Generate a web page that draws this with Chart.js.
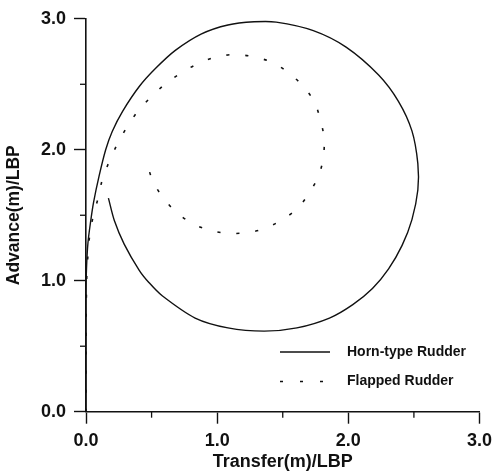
<!DOCTYPE html>
<html>
<head>
<meta charset="utf-8">
<script src="https://cdn.jsdelivr.net/npm/chart.js@4.4.1/dist/chart.umd.min.js"></script>
<style>
  html, body { margin: 0; padding: 0; background: #fff; }
  canvas { display: block; }
</style>
</head>
<body>
<canvas id="turning" width="499" height="471"></canvas>
<script>
// turning circle track
var seriesNames = ['Horn-type Rudder', 'Flapped Rudder'];

var hornX = [0, 0, 0, 0.004, 0.015, 0.035, 0.058, 0.1, 0.15, 0.2, 0.28, 0.406, 0.531, 0.681, 0.881, 1.082, 1.282, 1.45,
  1.733, 1.983, 2.231, 2.382, 2.485, 2.53, 2.53, 2.485, 2.41, 2.307, 2.184, 2.034, 1.856, 1.608, 1.358, 1.082,
  0.832, 0.581, 0.481, 0.406, 0.291, 0.216, 0.171];
var hornY = [0, 0.5, 0.9, 1.1, 1.29, 1.45, 1.6, 1.8, 2.0, 2.14, 2.295, 2.483, 2.622, 2.759, 2.885, 2.953, 2.977, 2.975,
  2.91, 2.784, 2.571, 2.37, 2.144, 1.894, 1.693, 1.467, 1.27, 1.091, 0.941, 0.818, 0.715, 0.64, 0.615, 0.64,
  0.715, 0.885, 0.985, 1.08, 1.28, 1.46, 1.631];

var flapX = [0, 0, 0.005, 0.015, 0.028, 0.055, 0.092, 0.125, 0.18, 0.243, 0.318, 0.4, 0.501, 0.606, 0.727, 0.857, 0.994,
  1.137, 1.282, 1.42, 1.545, 1.653, 1.741, 1.788, 1.816, 1.808, 1.771, 1.696, 1.608, 1.482, 1.358, 1.227, 1.082,
  0.932, 0.802, 0.681, 0.581, 0.506, 0.464];
var flapY = [0, 0.5, 1.0, 1.2, 1.345, 1.493, 1.63, 1.774, 1.917, 2.052, 2.182, 2.3, 2.408, 2.503, 2.588, 2.659, 2.709,
  2.727, 2.709, 2.667, 2.588, 2.488, 2.366, 2.225, 2.082, 1.932, 1.794, 1.661, 1.548, 1.458, 1.397, 1.367, 1.362,
  1.388, 1.442, 1.53, 1.643, 1.768, 1.907];

var axisMin = 0;
var axisMax = 3;
var minorTicks = [0.5, 1.5, 2.5];

function toPoints(xs, ys) {
  var pts = [];
  for (var i = 0; i < xs.length; i++) {
    pts.push({ x: xs[i], y: ys[i] });
  }
  return pts;
}

var ink = '#111';
var labelFont = { family: '"Liberation Sans", Arial, sans-serif', size: 18, weight: 'bold' };

function majorOnly(ctx) {
  return Number.isInteger(ctx.tick.value) ? ink : 'rgba(0,0,0,0)';
}

// short ticks at the half units
var minorTickPlugin = {
  id: 'minorTicks',
  afterDraw: function (chart) {
    var c = chart.ctx;
    var xs = chart.scales.x, ys = chart.scales.y;
    c.save();
    c.strokeStyle = ink;
    c.lineWidth = 1.3;
    minorTicks.forEach(function (v) {
      var px = xs.getPixelForValue(v);
      c.beginPath();
      c.moveTo(px, chart.chartArea.bottom);
      c.lineTo(px, chart.chartArea.bottom + 6);
      c.stroke();
      var py = ys.getPixelForValue(v);
      c.beginPath();
      c.moveTo(chart.chartArea.left - 6, py);
      c.lineTo(chart.chartArea.left, py);
      c.stroke();
    });
    c.restore();
  }
};

// legend sits inside the plot, lower right
var legendPlugin = {
  id: 'insideLegend',
  afterDraw: function (chart) {
    var c = chart.ctx;
    var rows = [352, 381.5];
    chart.data.datasets.forEach(function (ds, i) {
      var y = rows[i];
      c.save();
      c.strokeStyle = ds.borderColor;
      c.lineWidth = ds.borderWidth;
      if (ds.borderDash) {
        c.setLineDash([3, 17]);
        c.beginPath();
        c.moveTo(280, y);
        c.lineTo(324, y);
        c.stroke();
      } else {
        c.beginPath();
        c.moveTo(280, y);
        c.lineTo(330, y);
        c.stroke();
      }
      c.setLineDash([]);
      c.fillStyle = ink;
      c.font = 'bold 14px "Liberation Sans", Arial, sans-serif';
      c.textBaseline = 'middle';
      c.textAlign = 'left';
      c.fillText(ds.label, 347, y);
      c.restore();
    });
  }
};

var ctx = document.getElementById('turning').getContext('2d');

var chart = new Chart(ctx, {
  type: 'scatter',
  data: {
    datasets: [{
      label: seriesNames[0],
      data: toPoints(hornX, hornY),
      showLine: true,
      borderColor: ink,
      borderWidth: 1.4,
      pointRadius: 0,
      tension: 0.3,
      clip: 6
    }, {
      label: seriesNames[1],
      data: toPoints(flapX, flapY),
      showLine: true,
      borderColor: ink,
      borderWidth: 1.6,
      borderDash: [3, 16],
      pointRadius: 0,
      tension: 0.3,
      clip: 6
    }]
  },
  options: {
    responsive: false,
    devicePixelRatio: 1,
    animation: false,
    layout: { padding: { left: 0, right: 14, top: 13, bottom: 0 } },
    plugins: {
      legend: { display: false },
      tooltip: { enabled: false }
    },
    scales: {
      x: {
        type: 'linear',
        min: axisMin,
        max: axisMax,
        afterFit: function (scale) { scale.height = 59.3; },
        border: { display: true, color: ink, width: 1.6 },
        grid: {
          display: true,
          drawOnChartArea: false,
          drawTicks: true,
          tickLength: 12,
          tickWidth: 1.4,
          tickColor: majorOnly
        },
        ticks: {
          stepSize: 0.5,
          autoSkip: false,
          maxRotation: 0,
          padding: 7,
          color: ink,
          font: labelFont,
          callback: function (v) { return Number.isInteger(v) ? v.toFixed(1) : ''; }
        },
        title: {
          display: true,
          text: 'Transfer(m)/LBP',
          color: ink,
          font: { family: '"Liberation Sans", Arial, sans-serif', size: 18, weight: 'bold', lineHeight: 1 },
          padding: { top: 0, bottom: 0 }
        }
      },
      y: {
        type: 'linear',
        min: axisMin,
        max: axisMax,
        afterFit: function (scale) { scale.width = 86; },
        border: { display: true, color: ink, width: 1.6 },
        grid: {
          display: true,
          drawOnChartArea: false,
          drawTicks: true,
          tickLength: 12,
          tickWidth: 1.4,
          tickColor: majorOnly
        },
        ticks: {
          stepSize: 0.5,
          autoSkip: false,
          padding: 8,
          color: ink,
          font: labelFont,
          callback: function (v) { return Number.isInteger(v) ? v.toFixed(1) : ''; }
        },
        title: {
          display: true,
          text: 'Advance(m)/LBP',
          color: ink,
          font: { family: '"Liberation Sans", Arial, sans-serif', size: 17.5, weight: 'bold', lineHeight: 1 },
          padding: { top: 5, bottom: 0 }
        }
      }
    }
  },
  plugins: [minorTickPlugin, legendPlugin]
});
</script>
</body>
</html>
